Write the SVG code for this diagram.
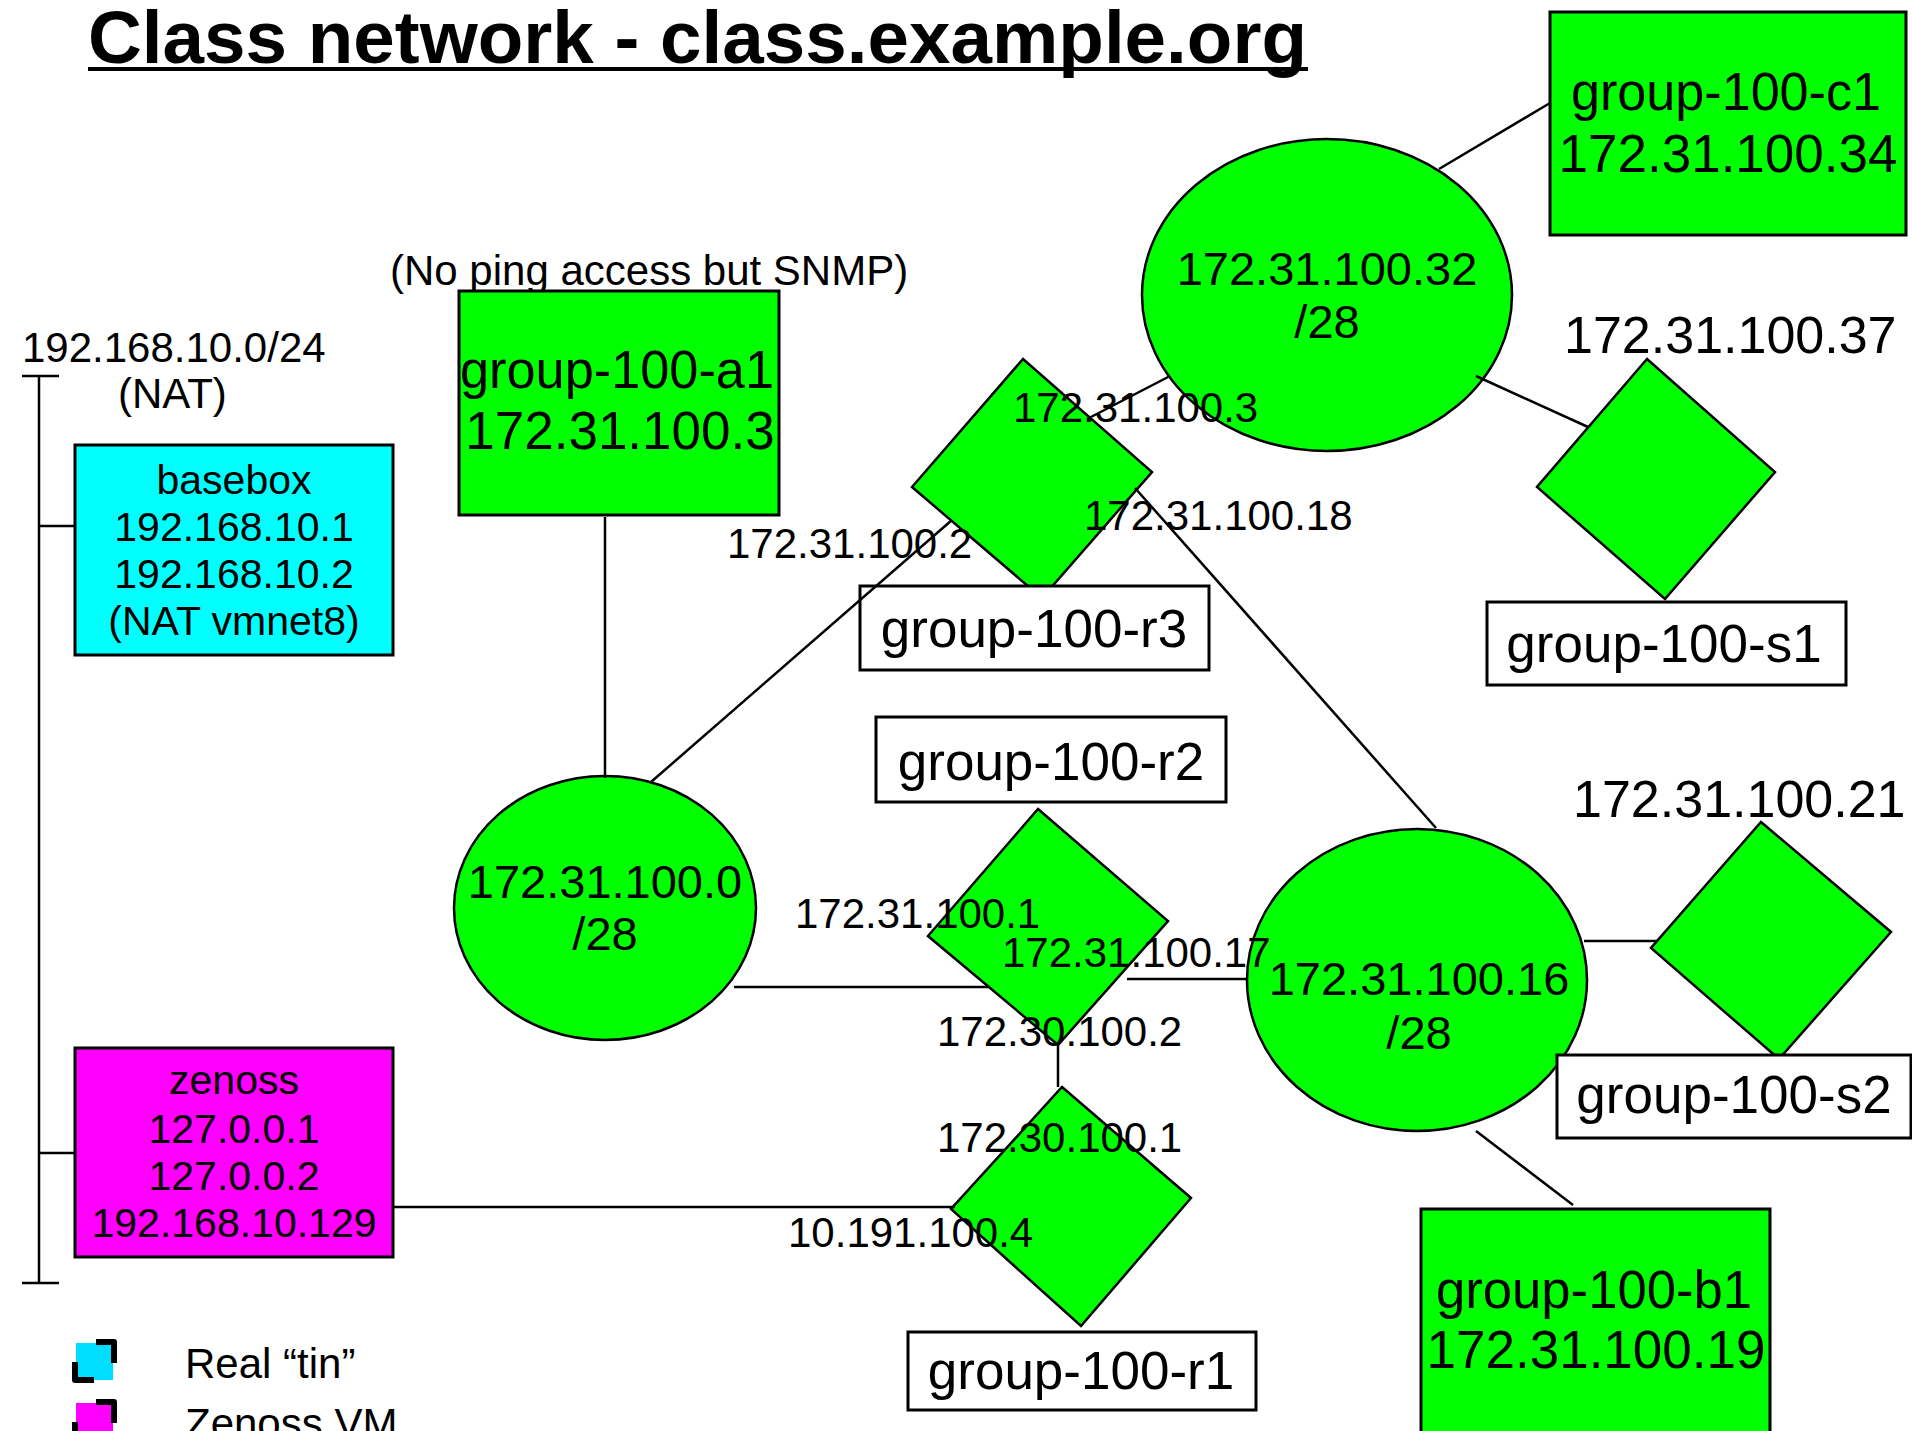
<svg xmlns="http://www.w3.org/2000/svg" width="1912" height="1431" viewBox="0 0 1912 1431">
<style>
text{font-family:"Liberation Sans",Arial,sans-serif;fill:#000}
.big{font-size:53px;text-anchor:middle}
.ell{font-size:47px;text-anchor:middle}
.sm{font-size:42px}
.host{font-size:41px;text-anchor:middle}
.g{fill:#00FF00;stroke:#000;stroke-width:3}
.ge{fill:#00FF00;stroke:#000;stroke-width:2.5}
.gd{fill:#00FF00;stroke:#000;stroke-width:2.5;stroke-linejoin:miter}
.lb{fill:#fff;stroke:#000;stroke-width:3}
.cn line{stroke:#000;stroke-width:2.5}
</style>
<rect width="1912" height="1431" fill="#fff"/>
<g id="title">
<text x="88" y="63" font-size="74" font-weight="bold" textLength="1219" lengthAdjust="spacingAndGlyphs">Class network - class.example.org</text>
<rect x="88" y="67" width="1220" height="4" fill="#000"/>
</g>
<g id="net-labels">
<text class="sm" x="22" y="362">192.168.10.0/24</text>
<text class="sm" x="118" y="408">(NAT)</text>
</g>
<g id="basebox">
<rect x="75" y="445" width="318" height="210" fill="#00FFFF" stroke="#000" stroke-width="3"/>
<text class="host" x="234" y="494">basebox</text>
<text class="host" x="234" y="541">192.168.10.1</text>
<text class="host" x="234" y="588">192.168.10.2</text>
<text class="host" x="234" y="635">(NAT vmnet8)</text>
</g>
<g id="zenoss">
<rect x="75" y="1048" width="318" height="209" fill="#FF00FF" stroke="#000" stroke-width="3"/>
<text class="host" x="234" y="1094">zenoss</text>
<text class="host" x="234" y="1143">127.0.0.1</text>
<text class="host" x="234" y="1190">127.0.0.2</text>
<text class="host" x="234" y="1237">192.168.10.129</text>
</g>
<g id="group-100-a1">
<text class="sm" x="390" y="285">(No ping access but SNMP)</text>
<rect class="g" x="459" y="291" width="320" height="224"/>
<text class="big" x="617" y="388" textLength="314" lengthAdjust="spacingAndGlyphs">group-100-a1</text>
<text class="big" x="620" y="449">172.31.100.3</text>
</g>
<g id="group-100-c1">
<rect class="g" x="1550" y="12" width="356" height="223"/>
<text class="big" x="1726" y="110" textLength="310" lengthAdjust="spacingAndGlyphs">group-100-c1</text>
<text class="big" x="1728" y="172">172.31.100.34</text>
</g>
<g id="group-100-b1">
<rect class="g" x="1421" y="1209" width="349" height="260"/>
<text class="big" x="1594" y="1308" textLength="316" lengthAdjust="spacingAndGlyphs">group-100-b1</text>
<text class="big" x="1596" y="1368">172.31.100.19</text>
</g>
<g id="net-172-31-100-32">
<ellipse class="ge" cx="1327" cy="295" rx="185" ry="156"/>
<text class="ell" x="1327" y="285">172.31.100.32</text>
<text class="ell" x="1327" y="338">/28</text>
</g>
<g id="net-172-31-100-0">
<ellipse class="ge" cx="605" cy="908" rx="151" ry="132"/>
<text class="ell" x="605" y="898">172.31.100.0</text>
<text class="ell" x="605" y="950">/28</text>
</g>
<g id="net-172-31-100-16">
<ellipse class="ge" cx="1417" cy="980" rx="170" ry="151"/>
<text class="ell" x="1419" y="995">172.31.100.16</text>
<text class="ell" x="1419" y="1049">/28</text>
</g>
<g id="group-100-r3">
<polygon class="gd" points="1023,359 1152,472 1042,598 912,487"/>
<rect class="lb" x="860" y="586" width="349" height="84"/>
<text class="big" x="1034" y="647">group-100-r3</text>
</g>
<g id="group-100-s1">
<text class="sm" x="1564" y="353" style="font-size:52px">172.31.100.37</text>
<polygon class="gd" points="1647,359 1775,472 1665,599 1537,487"/>
<rect class="lb" x="1487" y="602" width="359" height="83"/>
<text class="big" x="1664" y="662">group-100-s1</text>
</g>
<g id="group-100-r2">
<rect class="lb" x="876" y="717" width="350" height="85"/>
<text class="big" x="1051" y="780">group-100-r2</text>
<polygon class="gd" points="1038,809 1168,921 1058,1045 928,936"/>
</g>
<g id="group-100-r1">
<polygon class="gd" points="1062,1087 1191,1198 1081,1326 951,1209"/>
<rect class="lb" x="908" y="1332" width="348" height="78"/>
<text class="big" x="1081" y="1389">group-100-r1</text>
</g>
<g id="group-100-s2">
<text class="sm" x="1573" y="817" style="font-size:52px">172.31.100.21</text>
<polygon class="gd" points="1761,822 1891,932 1779,1059 1651,948"/>
<rect class="lb" x="1557" y="1055" width="354" height="83"/>
<text class="big" x="1734" y="1113">group-100-s2</text>
</g>
<g id="connectors" class="cn">
<line x1="39" y1="376" x2="39" y2="1283"/>
<line x1="22" y1="376" x2="59" y2="376"/>
<line x1="22" y1="1283" x2="59" y2="1283"/>
<line x1="39" y1="526" x2="75" y2="526"/>
<line x1="39" y1="1153" x2="75" y2="1153"/>
<line x1="605" y1="517" x2="605" y2="778"/>
<line x1="651" y1="782" x2="952" y2="520"/>
<line x1="734" y1="987" x2="990" y2="987"/>
<line x1="1127" y1="979" x2="1248" y2="979"/>
<line x1="1058" y1="1045" x2="1058" y2="1087"/>
<line x1="393" y1="1207" x2="955" y2="1207"/>
<line x1="1439" y1="169" x2="1550" y2="103"/>
<line x1="1170" y1="376" x2="1089" y2="418"/>
<line x1="1476" y1="376" x2="1588" y2="427"/>
<line x1="1135" y1="488" x2="1436" y2="828"/>
<line x1="1584" y1="941" x2="1657" y2="941"/>
<line x1="1476" y1="1131" x2="1573" y2="1205"/>
</g>
<g id="interface-labels">
<text class="sm" x="1013" y="422">172.31.100.3</text>
<text class="sm" x="1084" y="530">172.31.100.18</text>
<text class="sm" x="727" y="558">172.31.100.2</text>
<text class="sm" x="795" y="928">172.31.100.1</text>
<text class="sm" x="1002" y="967">172.31.100.17</text>
<text class="sm" x="937" y="1046">172.30.100.2</text>
<text class="sm" x="937" y="1152">172.30.100.1</text>
<text class="sm" x="788" y="1247">10.191.100.4</text>
</g>
<g id="legend">
<rect x="76" y="1343" width="37" height="37" fill="#00DDFF"/>
<polyline points="96,1342 114,1342 114,1363" fill="none" stroke="#000" stroke-width="6" stroke-linejoin="round"/>
<polyline points="75,1362 75,1380 94,1380" fill="none" stroke="#000" stroke-width="6" stroke-linejoin="round"/>
<text class="sm" x="185" y="1378">Real “tin”</text>
<rect x="76" y="1403" width="37" height="37" fill="#FF00FF"/>
<polyline points="96,1402 114,1402 114,1423" fill="none" stroke="#000" stroke-width="6" stroke-linejoin="round"/>
<polyline points="75,1422 75,1440 94,1440" fill="none" stroke="#000" stroke-width="6" stroke-linejoin="round"/>
<text class="sm" x="185" y="1438">Zenoss VM</text>
</g>
</svg>
